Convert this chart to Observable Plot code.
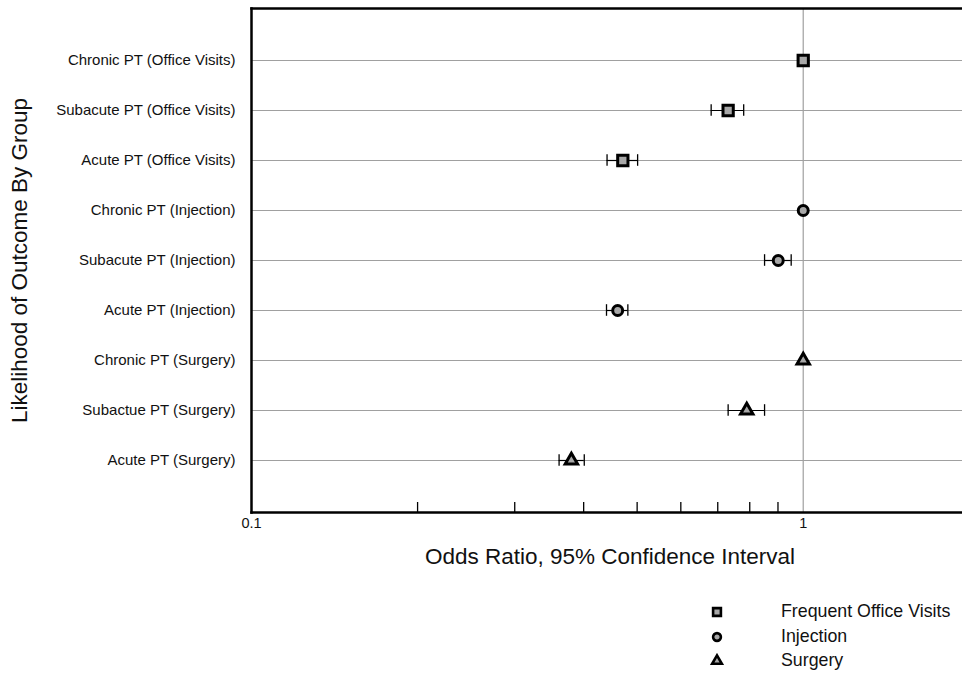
<!DOCTYPE html>
<html>
<head>
<meta charset="utf-8">
<script src="https://cdn.jsdelivr.net/npm/d3@7"></script>
<script src="https://cdn.jsdelivr.net/npm/@observablehq/plot@0.6"></script>
<style>
  html, body { margin: 0; padding: 0; background: white; overflow: hidden; }
  body { font-family: "Liberation Sans", Arial, Helvetica, sans-serif; position: relative; width: 962px; height: 677px; }
  #legend { position: absolute; left: 705px; top: 600px; }
  .lrow { position: absolute; left: 0; height: 24px; width: 260px; }
  .lrow svg { position: absolute; left: 4px; top: 4px; }
  .lrow span { position: absolute; left: 76px; top: 1px; font-size: 17.8px; color: #111; white-space: nowrap; }
</style>
</head>
<body>
<div id="chart"></div>
<div id="legend"></div>
<script>
// ---- data ----
const groups = [
  "Chronic PT (Office Visits)",
  "Subacute PT (Office Visits)",
  "Acute PT (Office Visits)",
  "Chronic PT (Injection)",
  "Subacute PT (Injection)",
  "Acute PT (Injection)",
  "Chronic PT (Surgery)",
  "Subactue PT (Surgery)",
  "Acute PT (Surgery)"
];
const treatments = ["Frequent Office Visits", "Frequent Office Visits", "Frequent Office Visits",
  "Injection", "Injection", "Injection", "Surgery", "Surgery", "Surgery"];
const oddsRatio = [1.0, 0.731, 0.471, 1.0, 0.901, 0.461, 1.0, 0.790, 0.380];
const ciLow     = [null, 0.681, 0.441, null, 0.851, 0.440, null, 0.731, 0.361];
const ciHigh    = [null, 0.780, 0.501, null, 0.951, 0.481, null, 0.851, 0.401];
const legendNames = ["Frequent Office Visits", "Injection", "Surgery"];
const legendSymbols = ["square", "circle", "triangle"];
const majorTicks = [0.1, 1];
const minorTicks = [0.2, 0.3, 0.4, 0.5, 0.6, 0.7, 0.8, 0.9];
const refLine = [1];
const xTitle = "Odds Ratio, 95% Confidence Interval";
const yTitle = "Likelihood of Outcome By Group";

const table = groups.map((g, i) => ({
  group: g, treatment: treatments[i], or: oddsRatio[i], lo: ciLow[i], hi: ciHigh[i]
}));
const withCI = table.filter(d => d.lo != null);

// marker radius per symbol so the shapes look the same size
const symbolRadius = { "Frequent Office Visits": 5.8, "Injection": 5.0, "Surgery": 4.6 };
const capInset = 19.2;

const plot = Plot.plot({
  width: 962,
  height: 580,
  marginLeft: 251,
  marginRight: 0,
  marginTop: 8,
  marginBottom: 68,
  style: { fontFamily: '"Liberation Sans", Arial, Helvetica, sans-serif', color: "#111", background: "white" },
  x: { type: "log", domain: [0.1, 1.944], axis: null },
  y: { type: "band", domain: groups, paddingInner: 0, paddingOuter: 0.5, axis: null },
  r: { type: "identity" },
  symbol: { domain: legendNames, range: legendSymbols },
  marks: [
    Plot.gridY(groups, { stroke: "#a0a0a0", strokeOpacity: 1, strokeWidth: 1.2 }),
    Plot.ruleX(refLine, { stroke: "#a0a0a0", strokeWidth: 1.2 }),
    Plot.frame({ anchor: "left", stroke: "black", strokeWidth: 2.5 }),
    Plot.frame({ anchor: "top", stroke: "black", strokeWidth: 2.5 }),
    Plot.frame({ anchor: "bottom", stroke: "black", strokeWidth: 2.5 }),
    Plot.axisX({ ticks: minorTicks, tickSize: -10, tickFormat: () => "", stroke: "black", strokeWidth: 1.3, label: null }),
    Plot.axisX({ ticks: majorTicks, tickSize: 0, tickPadding: 5, tickFormat: d => String(d), fontSize: 14.5, label: null }),
    Plot.axisY({ tickSize: 0, tickPadding: 16, fontSize: 15, label: null }),
    Plot.text([xTitle], { frameAnchor: "bottom", lineAnchor: "middle", dx: 3, dy: 44, fontSize: 22.5, fill: "#111" }),
    Plot.text([yTitle], { frameAnchor: "left", textAnchor: "middle", lineAnchor: "middle", dx: -232, rotate: -90, fontSize: 22.5, fill: "#111" }),
    Plot.ruleY(withCI, { y: "group", x1: "lo", x2: "hi", stroke: "black", strokeWidth: 1.2 }),
    Plot.tickX(withCI, { x: "lo", y: "group", insetTop: capInset, insetBottom: capInset, stroke: "black", strokeWidth: 1.3 }),
    Plot.tickX(withCI, { x: "hi", y: "group", insetTop: capInset, insetBottom: capInset, stroke: "black", strokeWidth: 1.3 }),
    Plot.dot(table, { x: "or", y: "group", symbol: "treatment", r: d => symbolRadius[d.treatment], fill: "#a8a8a8", stroke: "black", strokeWidth: 3 })
  ]
});
document.getElementById("chart").appendChild(plot);

// legend
const legend = document.getElementById("legend");
const legendRadius = [4.4, 3.9, 3.6];
legendNames.forEach((name, i) => {
  const row = document.createElement("div");
  row.className = "lrow";
  row.style.top = (i * 24.5) + "px";
  const sym = d3.create("svg").attr("width", 16).attr("height", 16);
  const shape = { square: d3.symbolSquare, circle: d3.symbolCircle, triangle: d3.symbolTriangle }[legendSymbols[i]];
  sym.append("path")
    .attr("transform", "translate(8,8)")
    .attr("d", d3.symbol(shape, legendRadius[i] * legendRadius[i] * Math.PI)())
    .attr("fill", "#a8a8a8").attr("stroke", "black").attr("stroke-width", 2.6);
  row.appendChild(sym.node());
  const t = document.createElement("span");
  t.textContent = name;
  row.appendChild(t);
  legend.appendChild(row);
});
</script>
</body>
</html>
